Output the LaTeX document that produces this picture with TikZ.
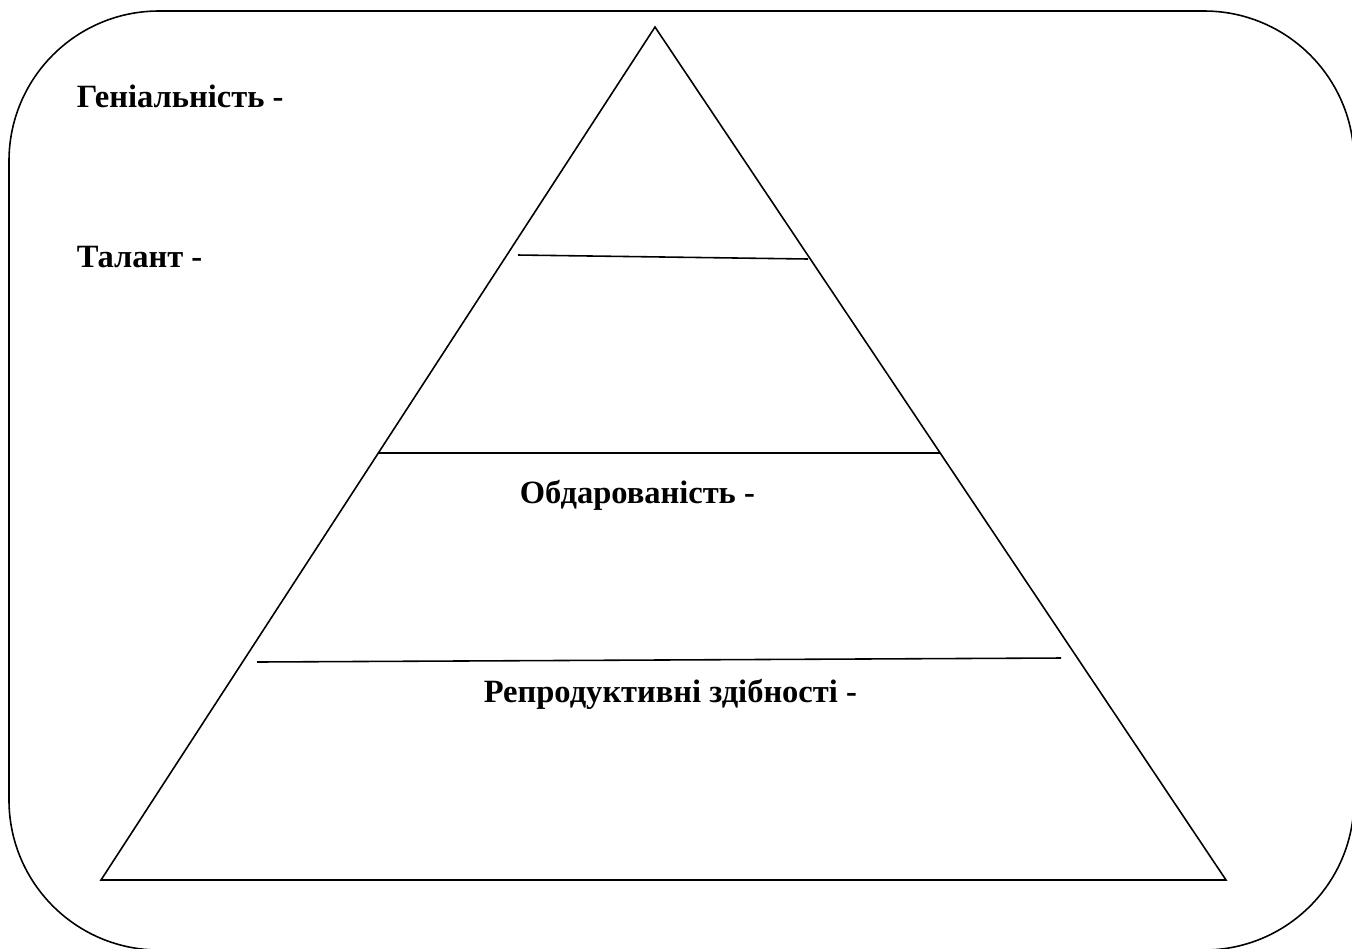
\documentclass[tikz,border=0pt]{standalone}
\usepackage{fontspec}
\setmainfont{Liberation Serif}
\newfontfamily\lblfont{Liberation Serif}[UprightFont=*/B]
\begin{document}
\begin{tikzpicture}[x=0.02cm, y=-0.02cm, line width=0.9pt,
  lbl/.style={anchor=base west, inner sep=0pt, font=\lblfont\fontsize{18.5}{22}\selectfont}]
\useasboundingbox (0,0) rectangle (1352,948);
\draw[rounded corners=3cm] (9,11) rectangle (1354,950);

% pyramid
\coordinate (top) at (655,27);
\coordinate (bl) at (101,880);
\coordinate (br) at (1226,880);
\draw (top) -- (bl) -- (br) -- cycle;

% levels
\draw (518,255) -- (808,259);
\draw (378,453) -- (940,453);
\draw (257,662) -- (1061,658);

\node[lbl] (gen) at (76,107) {Геніальність -};
\node[lbl] (tal) at (76,267) {Талант -};
\node[lbl] (obd) at (519,503) {Обдарованість -};
\node[lbl] (rep) at (483,702) {Репродуктивні здібності -};
\end{tikzpicture}
\end{document}
